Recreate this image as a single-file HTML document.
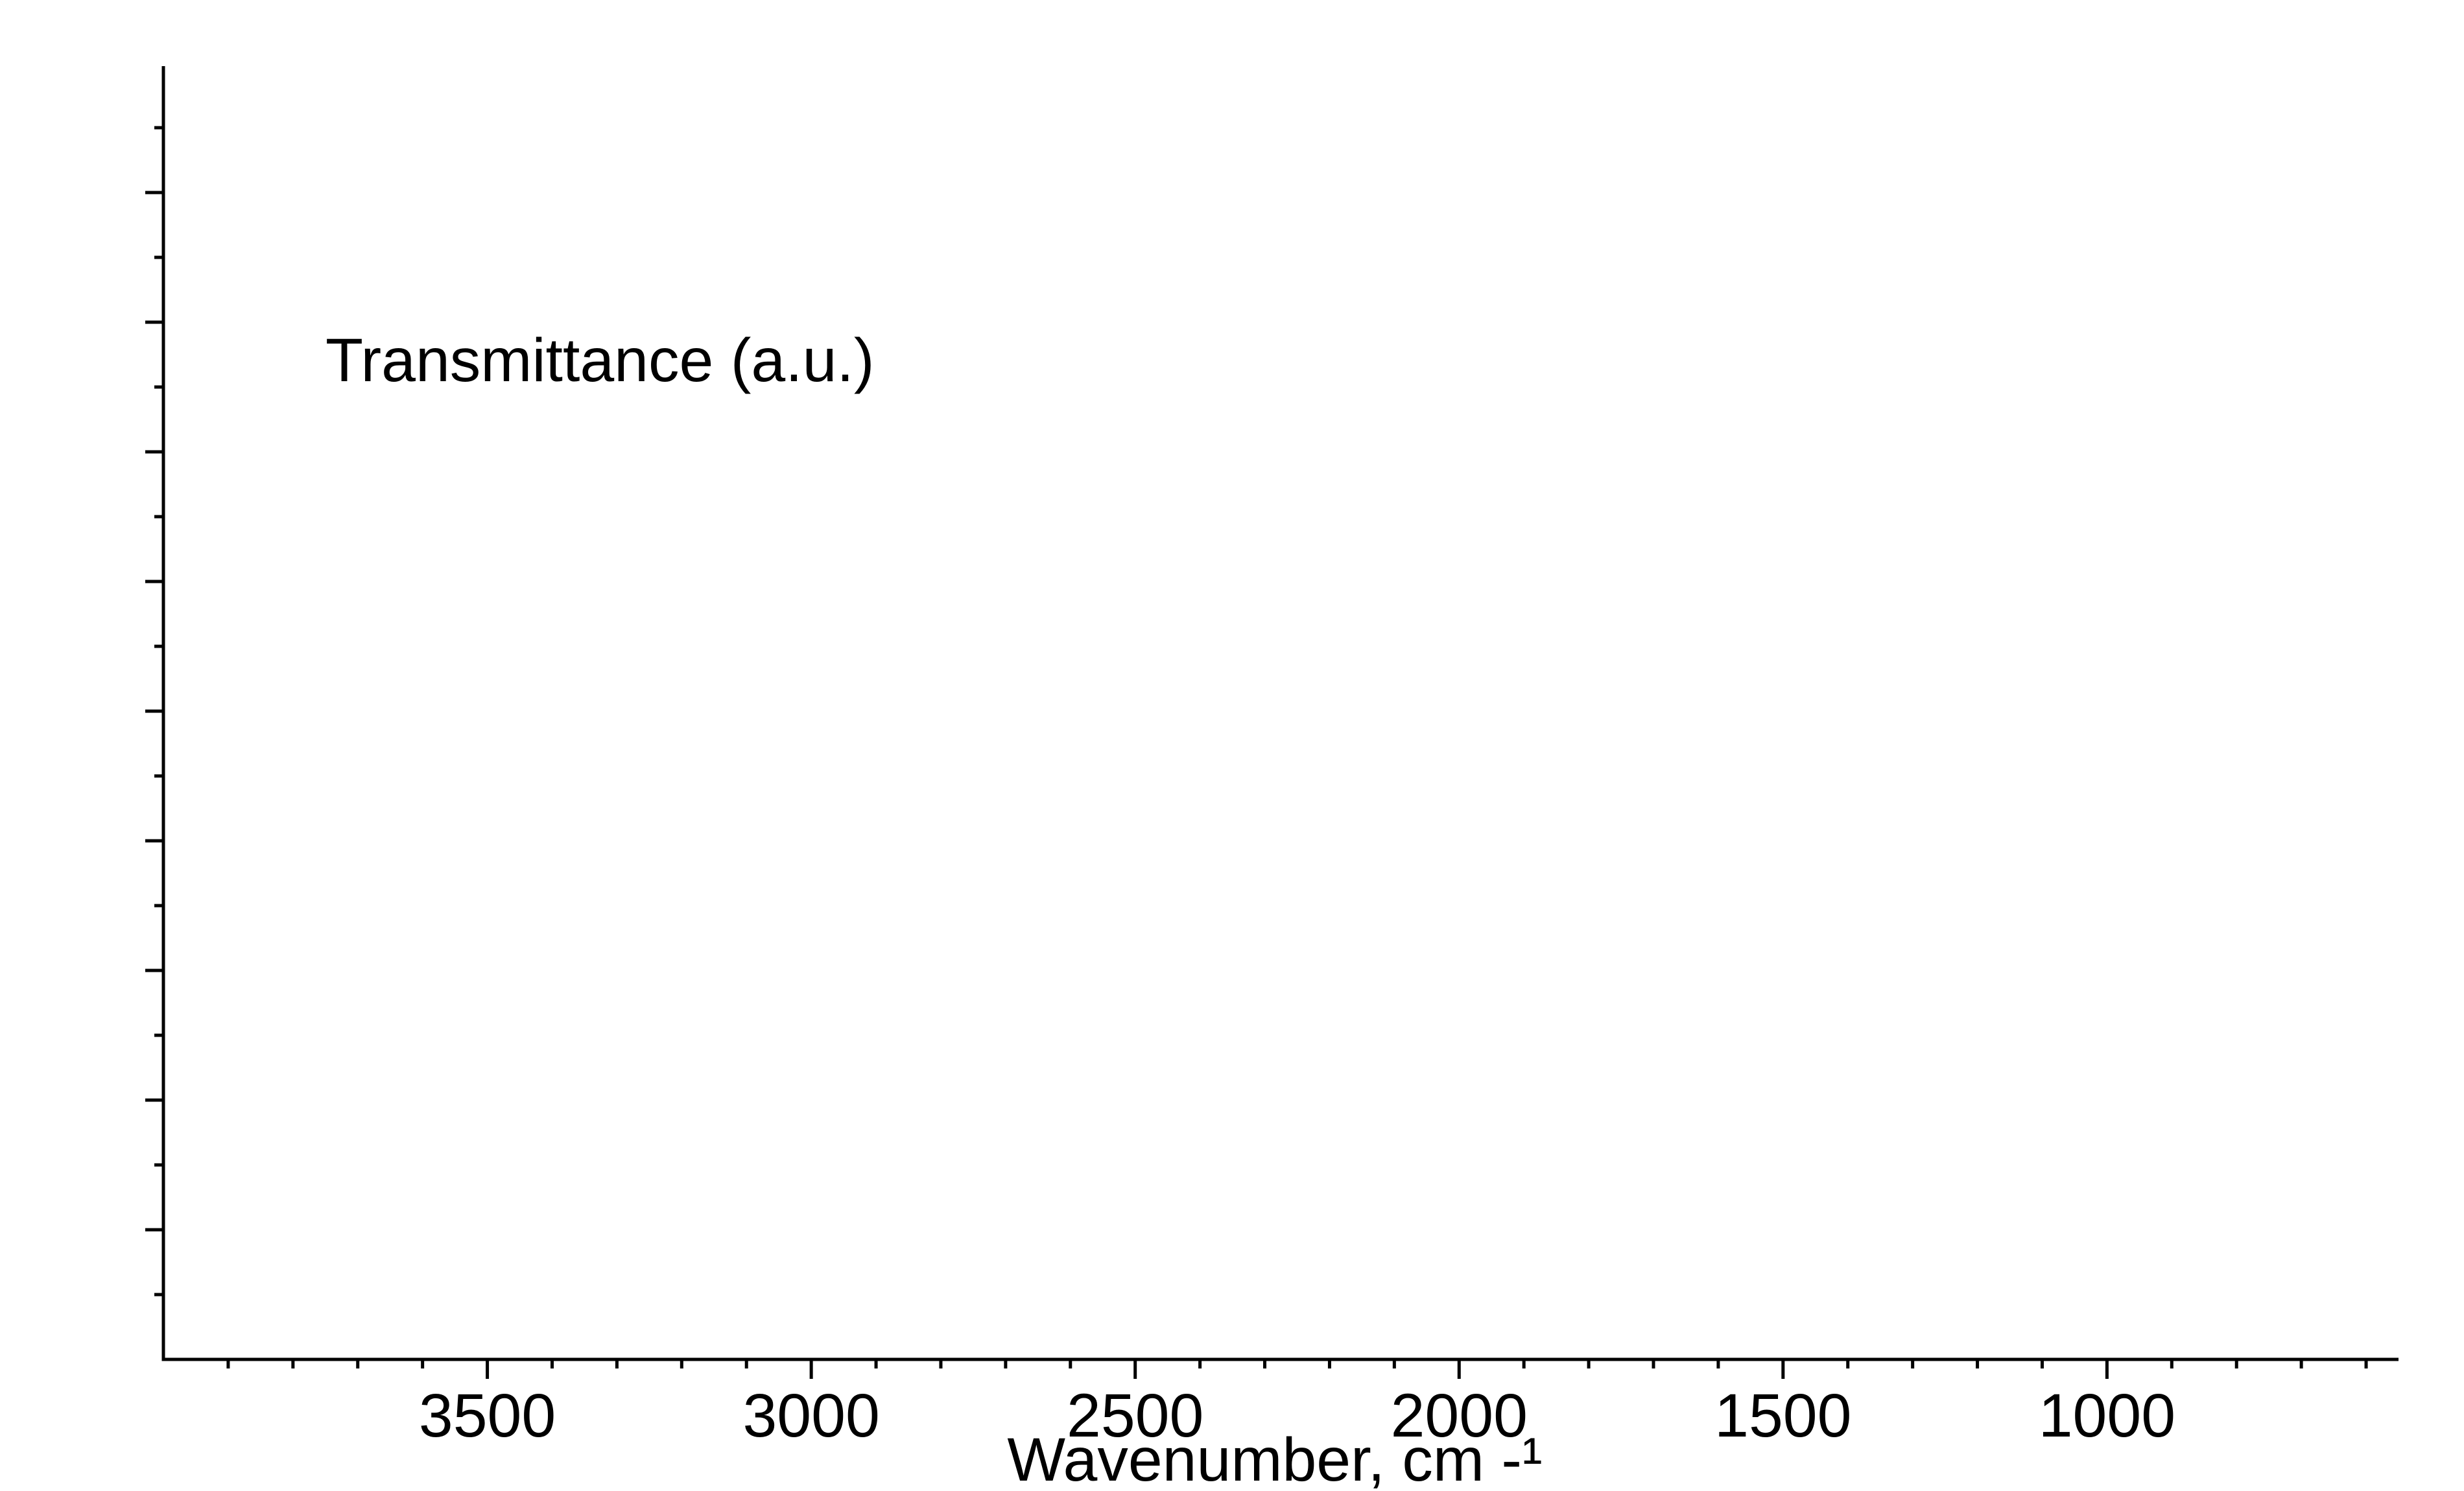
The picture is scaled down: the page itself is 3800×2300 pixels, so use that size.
<!DOCTYPE html>
<html><head><meta charset="utf-8"><style>
html,body{margin:0;padding:0;background:#fff;}
svg{display:block;}
text{font-family:"Liberation Sans",Arial,sans-serif;fill:#000;}
</style></head><body>
<svg id="chart" width="3800" height="2300" viewBox="0 0 3800 2300" xmlns="http://www.w3.org/2000/svg">
<g id="axes"></g>
<text x="502" y="588" font-size="95">Transmittance (a.u.)</text>
<text x="1966" y="2284" font-size="95" text-anchor="middle">Wavenumber, cm -¹</text>
</svg>
<script>
const xMajorTicks = [3500, 3000, 2500, 2000, 1500, 1000];
const xMajorLabels = ["3500", "3000", "2500", "2000", "1500", "1000"];
const xMinorStep = 100;
const xDomain = [4000, 550];
const yDomain = [0, 10];
const yMajorTicks = [1,2,3,4,5,6,7,8,9];
const yMinorTicks = [0.5,1.5,2.5,3.5,4.5,5.5,6.5,7.5,8.5,9.5];

const L=252, R=3699, T=97, B=2097, YTOP=102;
const NS='http://www.w3.org/2000/svg';
function xs(w){return L+(xDomain[0]-w)/(xDomain[0]-xDomain[1])*(R-L);}
function ys(v){return B-(v-yDomain[0])/(yDomain[1]-yDomain[0])*(B-T);}
const g=document.getElementById('axes');
function line(x1,y1,x2,y2,name){
  const l=document.createElementNS(NS,'line');
  l.setAttribute('x1',x1);l.setAttribute('y1',y1);l.setAttribute('x2',x2);l.setAttribute('y2',y2);
  l.setAttribute('stroke','#000');l.setAttribute('stroke-width','5');
  
  
  g.appendChild(l);
}
line(L,YTOP,L,B+2.5,'y-axis-line');
line(L-2.5,B,R,B,'x-axis-line');
for(let w=3900; w>xDomain[1]; w-=xMinorStep){
  const major=xMajorTicks.includes(w);
  line(xs(w),B,xs(w),B+(major?30:14),major?'x-major-tick':'x-minor-tick');
}
xMajorTicks.forEach((w,i)=>{
  const t=document.createElementNS(NS,'text');
  t.setAttribute('x',xs(w));t.setAttribute('y',2216);
  t.setAttribute('font-size','95');t.setAttribute('text-anchor','middle');
  t.textContent=xMajorLabels[i];
  
  
  g.appendChild(t);
});
yMajorTicks.forEach(v=>line(L-28,ys(v),L,ys(v),'y-major-tick'));
yMinorTicks.forEach(v=>line(L-14,ys(v),L,ys(v),'y-minor-tick'));
</script>
</body></html>
